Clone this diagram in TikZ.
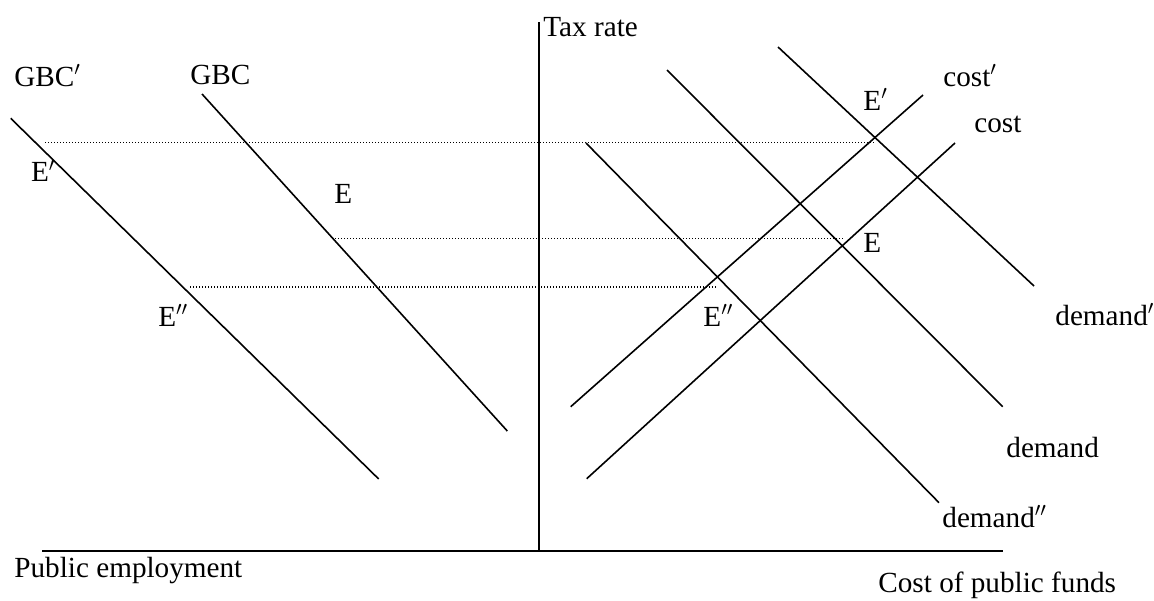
\documentclass[tikz,border=0pt]{standalone}
\usepackage{fontspec}
\setmainfont{Liberation Serif}
\begin{document}
\begin{tikzpicture}[x=0.5pt,y=-0.5pt,
  axisline/.style={line width=1pt},
  curve/.style={line width=0.8pt},
  guide/.style={line width=0.6pt,dash pattern=on 0.5pt off 1pt},
  lbl/.style={anchor=base west,inner sep=0pt,font=\fontsize{14.6}{17}\selectfont}]
\useasboundingbox (0,0) rectangle (1154,600);
% axes
\coordinate (vtop) at (538.7,22);
\coordinate (orig) at (538.7,550.7);
\coordinate (hleft) at (42,550.7);
\coordinate (hright) at (1003,550.7);
\draw[axisline] (vtop) -- (orig);
\draw[axisline] (hleft) -- (hright);
% GBC lines
\coordinate (gbcpA) at (10.7,118.3);
\coordinate (gbcpB) at (378.7,479);
\coordinate (gbcA) at (202,94);
\coordinate (gbcB) at (507.3,431);
\draw[curve] (gbcpA) -- (gbcpB);
\draw[curve] (gbcA) -- (gbcB);
% demand lines
\coordinate (dpA) at (778,47);
\coordinate (dpB) at (1034,286);
\coordinate (dA) at (667,70);
\coordinate (dB) at (1002.7,406.7);
\coordinate (dppA) at (586,143);
\coordinate (dppB) at (939,502.7);
\draw[curve] (dpA) -- (dpB);
\draw[curve] (dA) -- (dB);
\draw[curve] (dppA) -- (dppB);
% cost lines
\coordinate (cpA) at (570.7,406.7);
\coordinate (cpB) at (923,95);
\coordinate (cA) at (586.7,478.7);
\coordinate (cB) at (955,143);
\draw[curve] (cpA) -- (cpB);
\draw[curve] (cA) -- (cB);
% dotted guides
\coordinate (g1a) at (45,142.5);
\coordinate (g1b) at (875,142.5);
\coordinate (g2a) at (335,238.7);
\coordinate (g2b) at (845,238.7);
\coordinate (g3a) at (190,287);
\coordinate (g3b) at (716,287);
\draw[guide] (g1a) -- (g1b);
\draw[guide] (g2a) -- (g2b);
\draw[guide] (g3a) -- (g3b);
% labels
\node[lbl] (taxrate) at (543,36) {Tax rate};
\node[lbl] (gbcp) at (14,86) {GBC$'$};
\node[lbl] (gbc) at (190,84) {GBC};
\node[lbl] (elp) at (30.7,181.7) {E$'$};
\node[lbl] (el) at (334,203) {E};
\node[lbl] (elpp) at (158,326) {E$''$};
\node[lbl] (erp) at (863,110) {E$'$};
\node[lbl] (er) at (863,252) {E};
\node[lbl] (erpp) at (703,326) {E$''$};
\node[lbl] (costp) at (943,86) {cost$'$};
\node[lbl] (cost) at (974,132) {cost};
\node[lbl] (demp) at (1055,325) {demand$'$};
\node[lbl] (dem) at (1006,457) {demand};
\node[lbl] (dempp) at (942,527) {demand$''$};
\node[lbl] (pubemp) at (14,577) {Public employment};
\node[lbl] (cpf) at (878,592.7) {Cost of public funds};
\end{tikzpicture}
\end{document}
